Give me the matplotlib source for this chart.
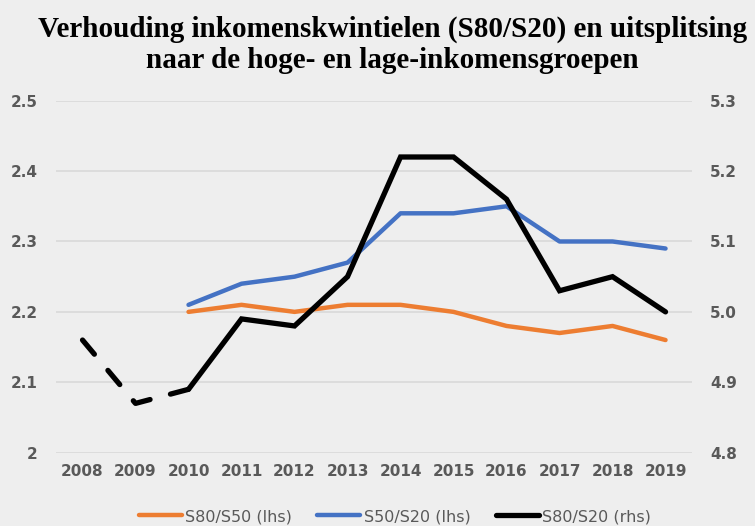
import numpy as np
import matplotlib.pyplot as plt

years = ['2008', '2009', '2010', '2011', '2012', '2013', '2014', '2015', '2016', '2017', '2018', '2019']
s80_s50 = [np.nan, np.nan, 2.20, 2.21, 2.20, 2.21, 2.21, 2.20, 2.18, 2.17, 2.18, 2.16]
s50_s20 = [np.nan, np.nan, 2.21, 2.24, 2.25, 2.27, 2.34, 2.34, 2.35, 2.30, 2.30, 2.29]
s80_s20 = [4.96, 4.87, 4.89, 4.99, 4.98, 5.05, 5.22, 5.22, 5.16, 5.03, 5.05, 5.00]
n_dashed = 3  # 2008-2010 drawn dashed

bg = '#eeeeee'
grey = '#595959'
x = np.arange(len(years))

fig = plt.figure(figsize=(7.55, 5.26), dpi=100, facecolor=bg)
ax = fig.add_axes([0.0742, 0.1394, 0.8424, 0.6692], facecolor=bg)
ax2 = ax.twinx()

ax.plot(x, s80_s50, color='#ed7d31', lw=3.2, solid_capstyle='round', label='S80/S50 (lhs)')
ax.plot(x, s50_s20, color='#4472c4', lw=3.2, solid_capstyle='round', label='S50/S20 (lhs)')
ax2.plot(x[:n_dashed], s80_s20[:n_dashed], color='black', lw=3.8,
         linestyle=(0, (3.5, 4)), dash_capstyle='round')
ax2.plot(x[n_dashed - 1:], s80_s20[n_dashed - 1:], color='black', lw=3.8,
         solid_capstyle='round', solid_joinstyle='miter', label='S80/S20 (rhs)')

ax.set_xlim(-0.5, len(years) - 0.5)
ax.set_ylim(2.0, 2.5)
ax2.set_ylim(4.8, 5.3)
ax.set_yticks(np.arange(2.0, 2.51, 0.1))
ax.set_yticklabels(['2', '2.1', '2.2', '2.3', '2.4', '2.5'])
ax2.set_yticks(np.arange(4.8, 5.31, 0.1))
ax2.set_yticklabels(['4.8', '4.9', '5.0', '5.1', '5.2', '5.3'])
ax.set_xticks(x)
ax.set_xticklabels(years)

ax.grid(axis='y', color='#d9d9d9', lw=1.2)
ax.set_axisbelow(True)
for a in (ax, ax2):
    for s in a.spines.values():
        s.set_visible(False)
    a.tick_params(length=0, labelsize=11, labelcolor=grey)
    for lab in a.get_xticklabels() + a.get_yticklabels():
        lab.set_fontweight('bold')
ax.tick_params(axis='y', pad=13)
ax2.tick_params(axis='y', pad=13)
ax.tick_params(axis='x', pad=8)

fig.text(0.52, 0.97, 'Verhouding inkomenskwintielen (S80/S20) en uitsplitsing\nnaar de hoge- en lage-inkomensgroepen',
         ha='center', va='top', fontsize=21, fontweight='bold', family='Liberation Serif', linespacing=1.18)

h1, l1 = ax.get_legend_handles_labels()
h2, l2 = ax2.get_legend_handles_labels()
fig.legend(h1 + h2, l1 + l2, loc='center', bbox_to_anchor=(0.523, 0.018), ncol=3, frameon=False,
           fontsize=11.5, labelcolor=grey, handlelength=2.7, handletextpad=0.2, columnspacing=1.6)

fig.savefig('out.png', dpi=100, facecolor=bg)
